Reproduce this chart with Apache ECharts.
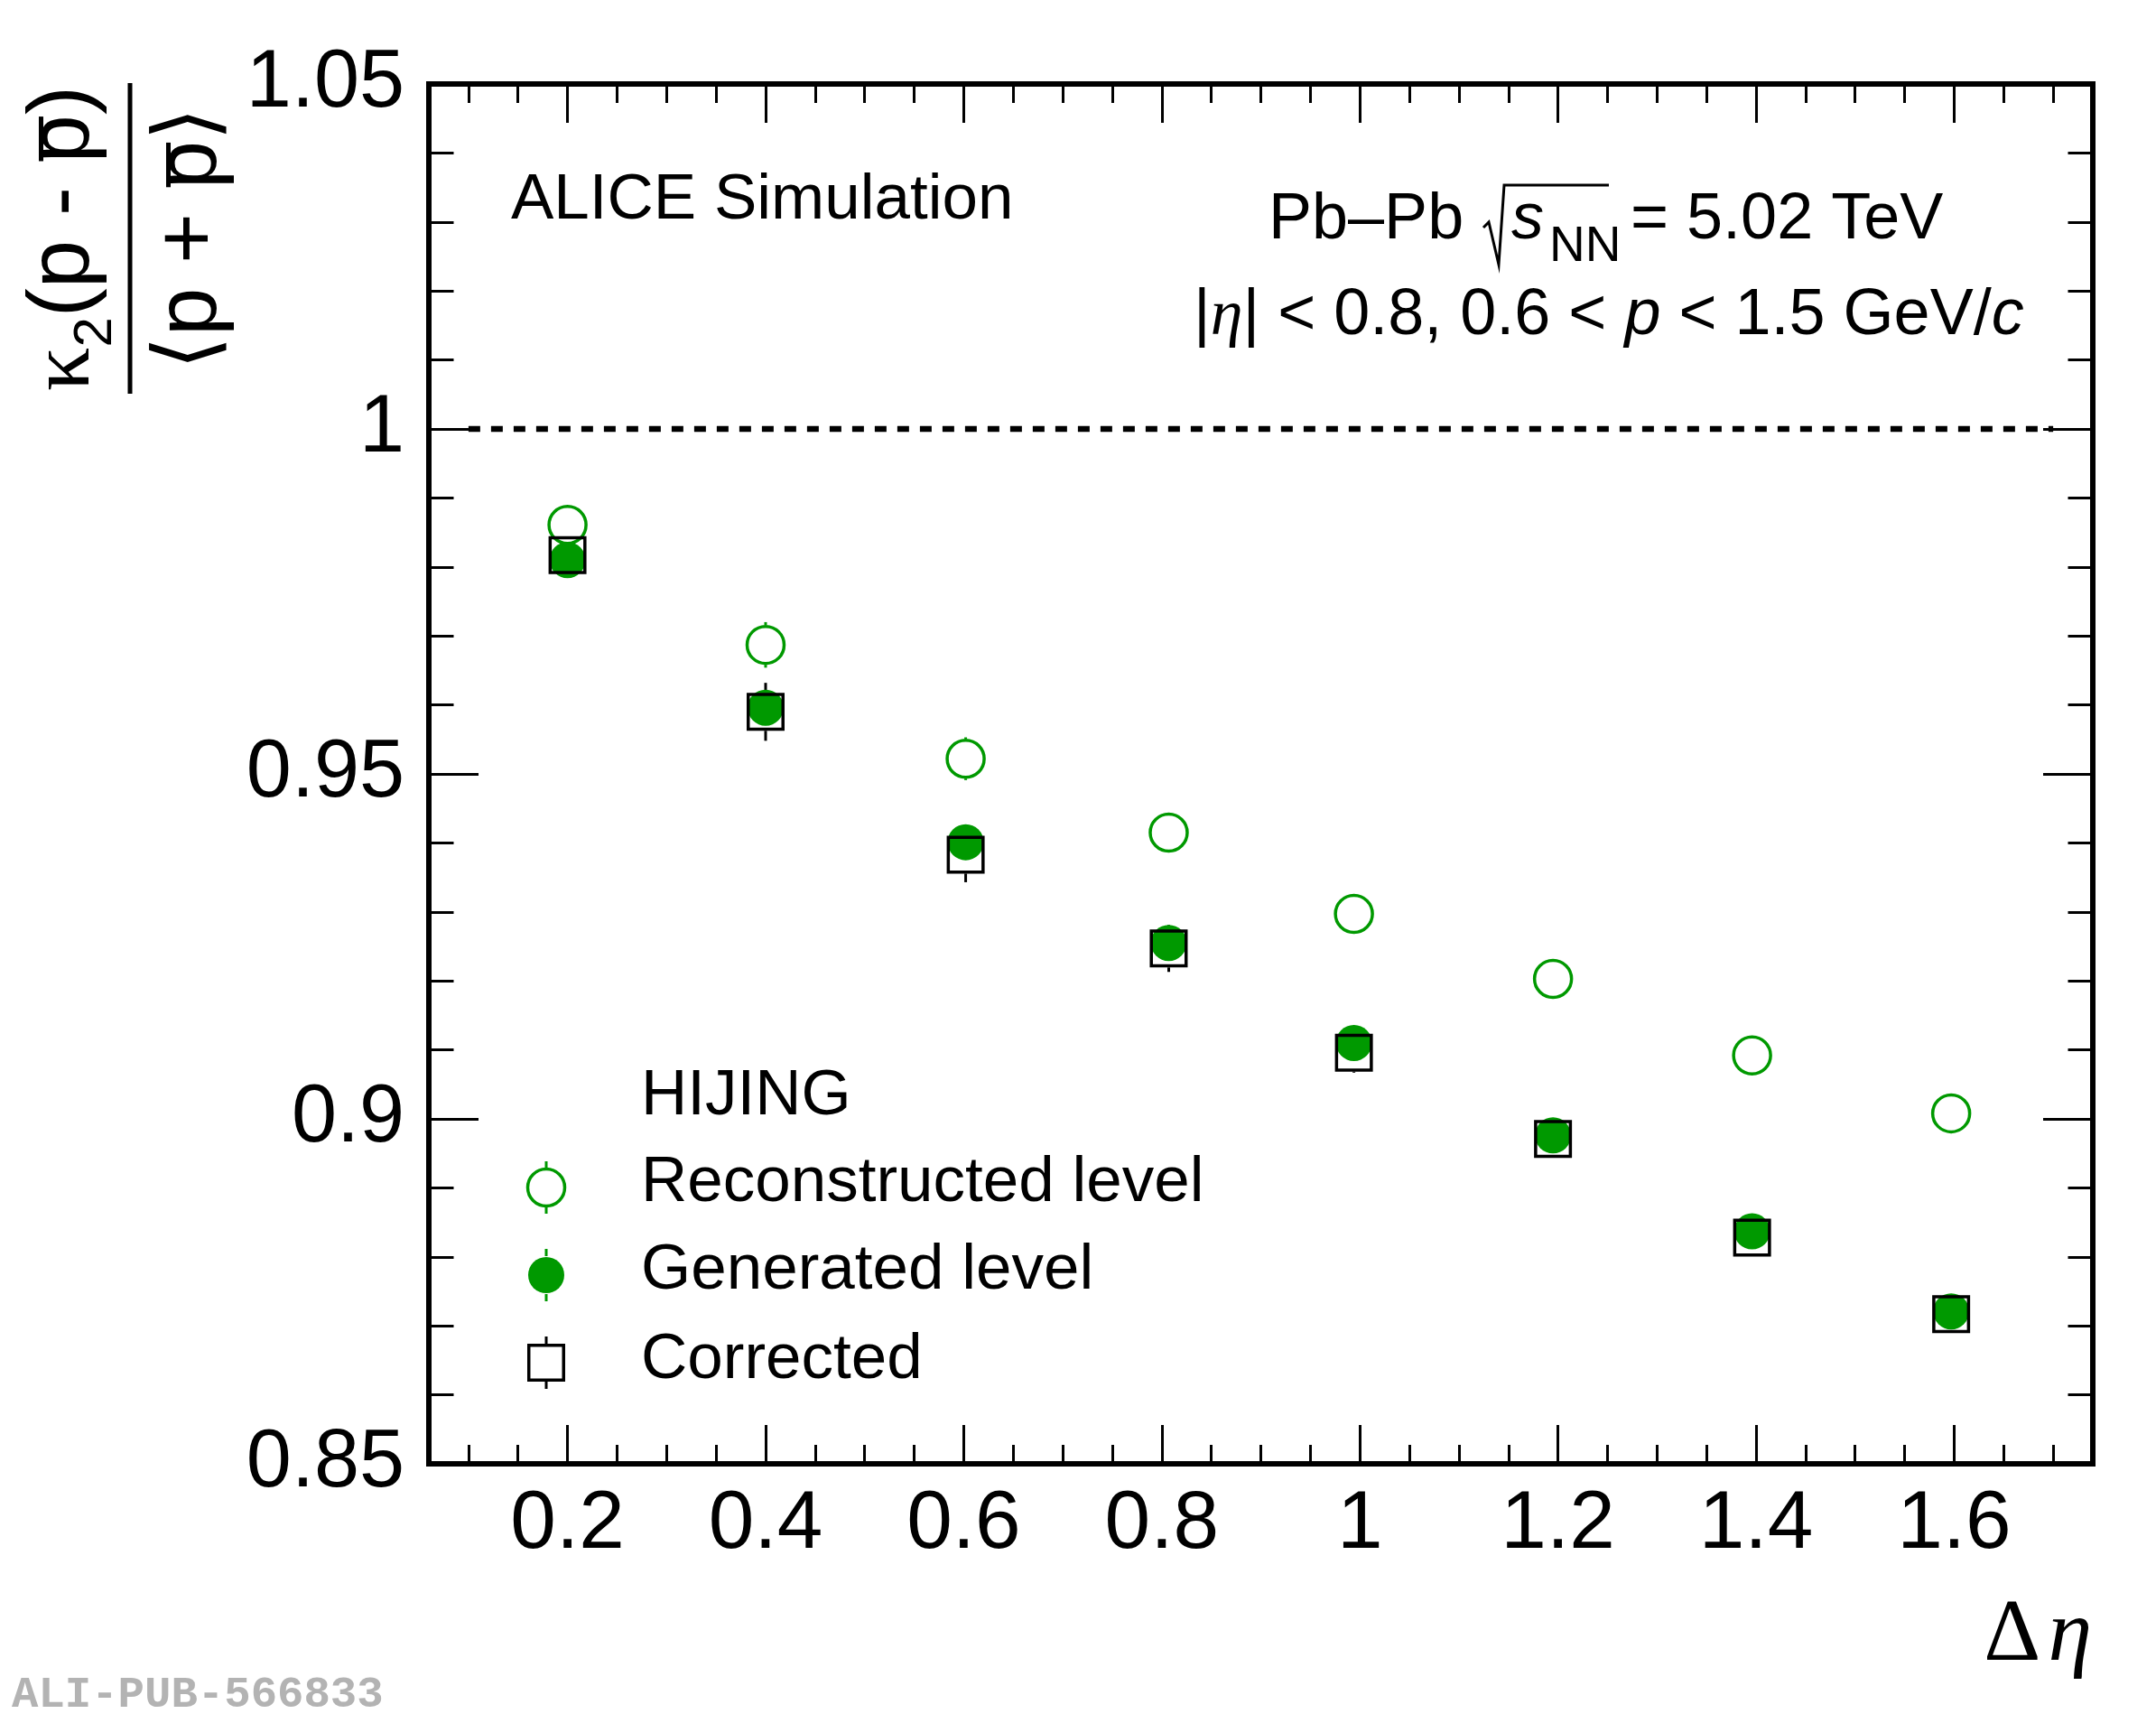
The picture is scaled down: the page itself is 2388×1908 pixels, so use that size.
<!DOCTYPE html>
<html>
<head>
<meta charset="utf-8">
<script src="https://cdn.jsdelivr.net/npm/echarts@6/dist/echarts.min.js"></script>
<style>
  html, body { margin: 0; padding: 0; background: #fff; }
  #chart { width: 2388px; height: 1908px; }
</style>
</head>
<body>
<div id="chart"></div>
<script>
// values
var dEta = [0.2, 0.4, 0.602, 0.807, 0.994, 1.195, 1.396, 1.597];
var reconstructed = [0.9861, 0.9687, 0.9522, 0.9415, 0.9297, 0.9203, 0.9092, 0.9008];
var reconstructedErr = [0.0025, 0.0033, 0.0031, 0.0028, 0.0027, 0.0026, 0.0025, 0.0025];
var generated = [0.9810, 0.9596, 0.9401, 0.9255, 0.9110, 0.8976, 0.8837, 0.8721];
var generatedErr = [0.0022, 0.0025, 0.0025, 0.0024, 0.0023, 0.0022, 0.0022, 0.0021];
var corrected = [0.9817, 0.9590, 0.9383, 0.9247, 0.9096, 0.8971, 0.8828, 0.8717];
var correctedErr = [0.0022, 0.0042, 0.0040, 0.0034, 0.0029, 0.0027, 0.0026, 0.0025];
var refLine = [[0.1, 1], [1.7, 1]];

var GREEN = '#009900';
var SANS = 'Liberation Sans';
var SERIF = 'Liberation Serif';

// text helpers: lay out pieces on a baseline (canvas measure for widths)
var measureCtx = document.createElement('canvas').getContext('2d');
function fontOf(p) {
    return (p.italic ? 'italic ' : '') + (p.bold ? 'bold ' : '') + p.size + 'px "' + (p.family || SANS) + '"';
}
function pieceWidth(p) {
    measureCtx.font = fontOf(p);
    return measureCtx.measureText(p.t).width;
}
function textRow(pieces, x, y, anchor) {
    var total = 0;
    pieces.forEach(function(p) { total += pieceWidth(p) + (p.dx || 0); });
    if (anchor === 'center') x -= total / 2;
    else if (anchor === 'right') x -= total;
    var out = [];
    pieces.forEach(function(p) {
        var w = pieceWidth(p);
        x += p.dx || 0;
        var k = (p.family === SERIF) ? 0.3375 : 0.3465;
        var by = y + (p.dy || 0);
        out.push({
            type: 'text',
            x: x,
            y: by - k * p.size,
            style: {
                text: p.t,
                font: fontOf(p),
                fill: p.color || '#000',
                textAlign: 'left', align: 'left',
                textVerticalAlign: 'middle', verticalAlign: 'middle'
            }
        });
        if (p.bar) {
            out.push({
                type: 'line',
                shape: { x1: x + 2, y1: by - p.bar * p.size, x2: x + w - 2, y2: by - p.bar * p.size },
                style: { stroke: '#000', lineWidth: 5 }
            });
        }
        x += w;
    });
    return out;
}

// vertical error bars, skipped inside the marker
function errorBars(color, gap) {
    return function(params, api) {
        var x = api.value(0), y = api.value(1), e = api.value(2);
        var c = api.coord([x, y]);
        var hi = api.coord([x, y + e]);
        var lo = api.coord([x, y - e]);
        var children = [];
        if (c[1] - hi[1] > gap) {
            children.push({ type: 'line', shape: { x1: c[0], y1: hi[1], x2: c[0], y2: c[1] - gap },
                style: { stroke: color, lineWidth: 3 } });
        }
        if (lo[1] - c[1] > gap) {
            children.push({ type: 'line', shape: { x1: c[0], y1: c[1] + gap, x2: c[0], y2: lo[1] },
                style: { stroke: color, lineWidth: 3 } });
        }
        return { type: 'group', children: children };
    };
}

function withErr(vals, errs) {
    return vals.map(function(v, i) { return [dEta[i], v, errs[i]]; });
}
function points(vals) {
    return vals.map(function(v, i) { return [dEta[i], v]; });
}

// legend drawn by hand (marker + vertical error line)
function legendMarker(kind, cx, cy) {
    var items = [];
    var gap = 21, half = 29;
    var col = kind === 'square' ? '#000' : GREEN;
    items.push({ type: 'line', shape: { x1: cx, y1: cy - half, x2: cx, y2: cy - gap }, style: { stroke: col, lineWidth: 3 } });
    items.push({ type: 'line', shape: { x1: cx, y1: cy + gap, x2: cx, y2: cy + half }, style: { stroke: col, lineWidth: 3 } });
    if (kind === 'open') {
        items.push({ type: 'circle', shape: { cx: cx, cy: cy, r: 20.5 }, style: { fill: null, stroke: GREEN, lineWidth: 3.5 } });
    } else if (kind === 'full') {
        items.push({ type: 'circle', shape: { cx: cx, cy: cy, r: 20 }, style: { fill: GREEN } });
    } else {
        items.push({ type: 'rect', shape: { x: cx - 19.25, y: cy - 19.25, width: 38.5, height: 38.5 }, style: { fill: null, stroke: '#000', lineWidth: 3.5 } });
    }
    return items;
}

var graphics = [];
// y-axis title: fraction, rotated
var numer = textRow([
    { t: 'κ', size: 96, family: SERIF },
    { t: '2', size: 60, dy: 22 },
    { t: '(p - ', size: 96 },
    { t: 'p', size: 96, bar: 0.62 },
    { t: ')', size: 96 }
], 0, -39, 'center');
var denom = textRow([
    { t: '⟨', size: 96, family: 'DejaVu Sans' },
    { t: 'p + ', size: 96 },
    { t: 'p', size: 96, bar: 0.62 },
    { t: '⟩', size: 96, family: 'DejaVu Sans' }
], 0, 102, 'center');
graphics.push({
    type: 'group',
    x: 144, y: 264,
    rotation: Math.PI / 2,
    children: numer.concat(denom).concat([
        { type: 'line', shape: { x1: -172, y1: 0, x2: 172, y2: 0 }, style: { stroke: '#000', lineWidth: 5 } }
    ])
});

graphics = graphics.concat(textRow([{ t: 'ALICE Simulation', size: 71 }], 566, 247));
graphics = graphics.concat(textRow([{ t: 'Pb–Pb', size: 72 }], 1405, 269));
graphics.push({
    type: 'polyline',
    shape: { points: [[1643, 252], [1649, 246], [1660, 293], [1666, 205], [1782, 205]] },
    style: { stroke: '#000', lineWidth: 3, fill: null }
});
graphics = graphics.concat(textRow([{ t: 's', size: 72, italic: true }], 1674, 269));
graphics = graphics.concat(textRow([{ t: 'NN', size: 55 }], 1716, 293));
graphics = graphics.concat(textRow([{ t: '= 5.02 TeV', size: 72 }], 1806, 269));
graphics = graphics.concat(textRow([
    { t: '|', size: 72 },
    { t: 'η', size: 72, family: SERIF, italic: true },
    { t: '| < 0.8, 0.6 < ', size: 72 },
    { t: 'p', size: 72, italic: true },
    { t: ' < 1.5 GeV/', size: 72 },
    { t: 'c', size: 72, italic: true }
], 1322, 375));

// legend
graphics = graphics.concat(textRow([{ t: 'HIJING', size: 71 }], 710, 1239));
graphics = graphics.concat(legendMarker('open', 605, 1315));
graphics = graphics.concat(textRow([{ t: 'Reconstructed level', size: 71 }], 710, 1335));
graphics = graphics.concat(legendMarker('full', 605, 1412));
graphics = graphics.concat(textRow([{ t: 'Generated level', size: 71 }], 710, 1432));
graphics = graphics.concat(legendMarker('square', 605, 1509));
graphics = graphics.concat(textRow([{ t: 'Corrected', size: 71 }], 710, 1531));

// x-axis title
graphics = graphics.concat(textRow([
    { t: 'Δ', size: 98, family: SERIF },
    { t: 'η', size: 98, family: SERIF, italic: true, dx: 8 }
], 2317, 1845, 'right'));

// watermark
graphics = graphics.concat(textRow([{ t: 'ALI-PUB-566833', size: 49, family: 'Liberation Mono', bold: true, color: '#b3b3b3' }], 13, 1895));

var tickStyle = { color: '#000', width: 3 };
function xAxisDef(pos, labels) {
    return {
        type: 'value',
        position: pos,
        min: 0.06,
        max: 1.74,
        splitNumber: 8,
        axisLine: { show: false },
        axisTick: { show: true, inside: true, length: 43, lineStyle: tickStyle },
        minorTick: { show: true, splitNumber: 4, length: 21, lineStyle: tickStyle },
        splitLine: { show: false },
        minorSplitLine: { show: false },
        axisLabel: {
            show: labels,
            showMinLabel: false,
            showMaxLabel: false,
            fontSize: 91,
            fontFamily: SANS,
            color: '#000',
            margin: 22
        }
    };
}
function yAxisDef(pos, labels) {
    return {
        type: 'value',
        position: pos,
        min: 0.85,
        max: 1.05,
        interval: 0.05,
        axisLine: { show: false },
        axisTick: { show: true, inside: true, length: 55, lineStyle: tickStyle },
        minorTick: { show: true, splitNumber: 5, length: 27.5, lineStyle: tickStyle },
        splitLine: { show: false },
        minorSplitLine: { show: false },
        axisLabel: {
            show: labels,
            fontSize: 90,
            fontFamily: SANS,
            color: '#000',
            margin: 27
        }
    };
}

var myChart = echarts.init(document.getElementById('chart'), null, { renderer: 'canvas' });
var option = {
    animation: false,
    backgroundColor: '#fff',
    grid: {
        left: 475,
        right: 70,
        top: 93,
        bottom: 287,
        show: true,
        borderColor: '#000',
        borderWidth: 6,
        backgroundColor: 'transparent'
    },
    xAxis: [xAxisDef('bottom', true), xAxisDef('top', false)],
    yAxis: [yAxisDef('left', true), yAxisDef('right', false)],
    series: [
        {
            type: 'line',
            data: refLine,
            symbol: 'none',
            lineStyle: { color: '#000', width: 6.5, type: [13, 12], opacity: 1 },
            silent: true
        },
        {
            type: 'custom',
            renderItem: errorBars(GREEN, 22),
            data: withErr(reconstructed, reconstructedErr)
        },
        {
            name: 'Reconstructed level',
            type: 'scatter',
            data: points(reconstructed),
            symbol: 'circle',
            symbolSize: 41,
            itemStyle: { color: 'rgba(0,0,0,0)', borderColor: GREEN, borderWidth: 3.5, opacity: 1 }
        },
        {
            type: 'custom',
            renderItem: errorBars(GREEN, 20),
            data: withErr(generated, generatedErr)
        },
        {
            name: 'Generated level',
            type: 'scatter',
            data: points(generated),
            symbol: 'circle',
            symbolSize: 40,
            itemStyle: { color: GREEN, opacity: 1 }
        },
        {
            type: 'custom',
            renderItem: errorBars('#000', 21),
            data: withErr(corrected, correctedErr)
        },
        {
            name: 'Corrected',
            type: 'scatter',
            data: points(corrected),
            symbol: 'rect',
            symbolSize: 38.5,
            itemStyle: { color: 'rgba(0,0,0,0)', borderColor: '#000', borderWidth: 3.5, opacity: 1 }
        }
    ],
    graphic: graphics
};
myChart.setOption(option);
</script>
</body>
</html>
